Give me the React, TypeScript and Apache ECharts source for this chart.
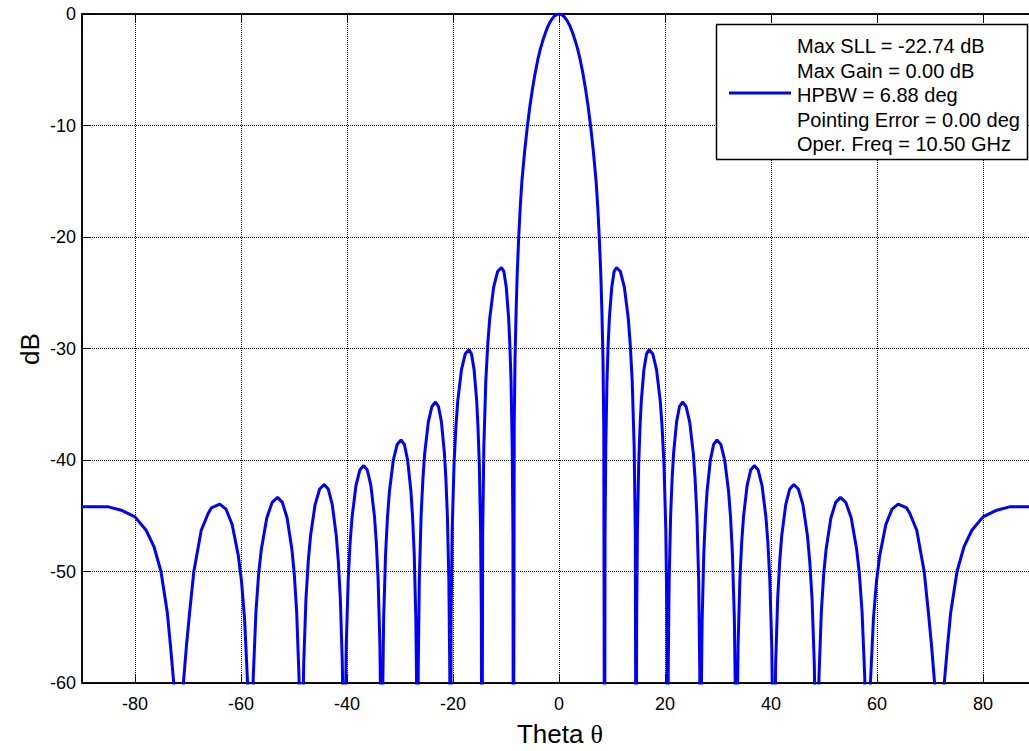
import React, { useEffect, useRef } from 'react';
import * as echarts from 'echarts';

// Radiation pattern: [theta (deg), gain (dB)]
const leftHalf: [number, number][] = [
  [-90, -44.2], [-87.5, -44.2], [-85.0, -44.2], [-82.6, -44.5], [-80.0, -45.1], [-77.9, -46.3], [-76.4, -47.8], [-75.1, -50.0], [-73.9, -53.7], [-73.3, -56.7], [-72.6, -60.5], [-71.9, -80],
  [-70.9, -60.2], [-70.3, -56.7], [-69.7, -53.7], [-68.9, -50.0], [-67.5, -46.3], [-66.2, -44.8], [-65.6, -44.3], [-64.0, -43.95], [-62.84, -44.4], [-61.66, -45.8], [-60.5, -48.6], [-59.9, -50.9], [-59.33, -54.2], [-58.75, -60.1], [-58.4, -68.0], [-58.15, -80],
  [-57.99, -67.4], [-57.69, -59.5], [-57.18, -53.6], [-56.67, -50.2], [-56.16, -48.0], [-55.14, -45.2], [-54.12, -43.8], [-53.1, -43.35], [-52.2, -43.8], [-51.3, -45.2], [-50.4, -48.0], [-49.95, -50.2], [-49.5, -53.6], [-49.05, -59.5], [-48.78, -67.4], [-48.6, -80],
  [-48.43, -66.2], [-48.17, -58.3], [-47.74, -52.4], [-47.31, -49.1], [-46.88, -46.8], [-46.02, -44.0], [-45.16, -42.6], [-44.3, -42.2], [-43.54, -42.6], [-42.78, -44.0], [-42.02, -46.8], [-41.64, -49.1], [-41.26, -52.4], [-40.88, -58.3], [-40.65, -66.2], [-40.5, -80],
  [-40.35, -64.5], [-40.14, -56.6], [-39.77, -50.7], [-39.41, -47.4], [-39.04, -45.1], [-38.31, -42.3], [-37.58, -40.9], [-36.85, -40.5], [-36.17, -40.9], [-35.49, -42.3], [-34.81, -45.1], [-34.47, -47.4], [-34.13, -50.7], [-33.79, -56.6], [-33.59, -64.5], [-33.45, -80],
  [-33.3, -62.2], [-33.09, -54.3], [-32.72, -48.4], [-32.36, -45.1], [-31.99, -42.8], [-31.26, -40.0], [-30.53, -38.6], [-29.8, -38.2], [-29.18, -38.6], [-28.56, -40.0], [-27.94, -42.8], [-27.63, -45.1], [-27.32, -48.4], [-27.01, -54.3], [-26.82, -62.2], [-26.7, -80],
  [-26.56, -58.8], [-26.36, -50.9], [-26.02, -45.0], [-25.68, -41.7], [-25.34, -39.4], [-24.66, -36.6], [-23.98, -35.2], [-23.3, -34.8], [-22.74, -35.2], [-22.18, -36.6], [-21.62, -39.4], [-21.34, -41.7], [-21.06, -45.0], [-20.78, -50.9], [-20.61, -58.8], [-20.5, -80],
  [-20.36, -54.1], [-20.15, -46.2], [-19.8, -40.3], [-19.45, -37.0], [-19.1, -34.7], [-18.4, -31.9], [-17.7, -30.5], [-17.0, -30.1], [-16.51, -30.5], [-16.02, -31.9], [-15.53, -34.7], [-15.29, -37.0], [-15.04, -40.3], [-14.8, -46.2], [-14.65, -54.1], [-14.55, -80],
  [-14.4, -46.7], [-14.18, -38.8], [-13.81, -32.9], [-13.44, -29.6], [-13.07, -27.3], [-12.33, -24.5], [-11.59, -23.1], [-10.85, -22.74], [-10.4, -23.1], [-9.95, -24.5], [-9.5, -27.3], [-9.28, -29.6], [-9.05, -32.9], [-8.83, -38.8], [-8.69, -46.7], [-8.6, -80],
  [-8.45, -37.0], [-8.3, -31.0], [-8.1, -26.8], [-7.9, -23.5], [-7.6, -20.0], [-7.3, -17.2], [-7.0, -15.0], [-6.5, -12.4], [-6.0, -10.2], [-5.5, -8.3], [-5.0, -6.7], [-4.5, -5.3], [-4.0, -4.1], [-3.5, -3.1], [-3.0, -2.3], [-2.5, -1.6], [-2.0, -1.0], [-1.5, -0.57], [-1.0, -0.25], [-0.5, -0.06],
];

const rightHalf: [number, number][] = [
  [0, 0], [0.5, -0.06], [1, -0.25], [1.5, -0.57], [2, -1.0], [2.5, -1.6], [3, -2.3], [3.5, -3.1], [4, -4.1], [4.5, -5.3], [5, -6.7], [5.5, -8.3], [6, -10.2], [6.5, -12.4], [7, -15.0], [7.3, -17.2], [7.6, -20.0], [7.9, -23.5], [8.1, -26.8], [8.3, -31.0], [8.45, -37.0], [8.6, -80],
  [8.69, -46.7], [8.83, -38.8], [9.05, -32.9], [9.28, -29.6], [9.5, -27.3], [9.95, -24.5], [10.4, -23.1], [10.85, -22.74], [11.59, -23.1], [12.33, -24.5], [13.07, -27.3], [13.44, -29.6], [13.81, -32.9], [14.18, -38.8], [14.4, -46.7], [14.55, -80],
  [14.65, -54.1], [14.8, -46.2], [15.04, -40.3], [15.29, -37.0], [15.53, -34.7], [16.02, -31.9], [16.51, -30.5], [17.0, -30.1], [17.7, -30.5], [18.4, -31.9], [19.1, -34.7], [19.45, -37.0], [19.8, -40.3], [20.15, -46.2], [20.36, -54.1], [20.5, -80],
  [20.61, -58.8], [20.78, -50.9], [21.06, -45.0], [21.34, -41.7], [21.62, -39.4], [22.18, -36.6], [22.74, -35.2], [23.3, -34.8], [23.98, -35.2], [24.66, -36.6], [25.34, -39.4], [25.68, -41.7], [26.02, -45.0], [26.36, -50.9], [26.56, -58.8], [26.7, -80],
  [26.82, -62.2], [27.01, -54.3], [27.32, -48.4], [27.63, -45.1], [27.94, -42.8], [28.56, -40.0], [29.18, -38.6], [29.8, -38.2], [30.53, -38.6], [31.26, -40.0], [31.99, -42.8], [32.36, -45.1], [32.72, -48.4], [33.09, -54.3], [33.3, -62.2], [33.45, -80],
  [33.59, -64.5], [33.79, -56.6], [34.13, -50.7], [34.47, -47.4], [34.81, -45.1], [35.49, -42.3], [36.17, -40.9], [36.85, -40.5], [37.58, -40.9], [38.31, -42.3], [39.04, -45.1], [39.41, -47.4], [39.77, -50.7], [40.14, -56.6], [40.35, -64.5], [40.5, -80],
  [40.65, -66.2], [40.88, -58.3], [41.26, -52.4], [41.64, -49.1], [42.02, -46.8], [42.78, -44.0], [43.54, -42.6], [44.3, -42.2], [45.16, -42.6], [46.02, -44.0], [46.88, -46.8], [47.31, -49.1], [47.74, -52.4], [48.17, -58.3], [48.43, -66.2], [48.6, -80],
  [48.78, -67.4], [49.05, -59.5], [49.5, -53.6], [49.95, -50.2], [50.4, -48.0], [51.3, -45.2], [52.2, -43.8], [53.1, -43.35], [54.12, -43.8], [55.14, -45.2], [56.16, -48.0], [56.67, -50.2], [57.18, -53.6], [57.69, -59.5], [57.99, -67.4], [58.15, -80],
  [58.4, -68.0], [58.75, -60.1], [59.33, -54.2], [59.9, -50.9], [60.5, -48.6], [61.66, -45.8], [62.84, -44.4], [64.0, -43.95], [65.6, -44.3], [66.2, -44.8], [67.5, -46.3], [68.9, -50.0], [69.7, -53.7], [70.3, -56.7], [70.9, -60.2], [71.9, -80],
  [72.6, -60.5], [73.3, -56.7], [73.9, -53.7], [75.1, -50.0], [76.4, -47.8], [77.9, -46.3], [80.0, -45.1], [82.6, -44.5], [85.0, -44.2], [87.5, -44.2], [90, -44.2],
];

const legendLines = [
  'Max SLL = -22.74 dB',
  'Max Gain = 0.00 dB',
  'HPBW = 6.88 deg',
  'Pointing Error = 0.00 deg',
  'Oper. Freq = 10.50 GHz',
];

const FONT = '"Liberation Sans", Arial, Helvetica, sans-serif';
const CHART_W = 1040;
const CHART_H = 751;

export default function App() {
  const ref = useRef<HTMLDivElement>(null);

  useEffect(() => {
    if (!ref.current) return;
    const chart = echarts.init(ref.current, null, { renderer: 'svg', width: CHART_W, height: CHART_H });
    const points = [...leftHalf, ...rightHalf];

    const axisLineStyle = { color: '#000', width: 1.5 };
    const tickStyle = { show: true, inside: true, length: 9, lineStyle: { color: '#000', width: 1 } };
    const gridStyle = { show: true, lineStyle: { color: '#000', width: 1, type: [1, 1] as any } };

    const legendTexts = legendLines.map((t, i) => ({
      type: 'text',
      z: 101,
      x: 797,
      y: 46 + i * 24.6,
      style: {
        text: t,
        fill: '#000',
        fontSize: 20,
        fontFamily: FONT,
        align: 'left',
        verticalAlign: 'middle',
      },
    }));

    chart.setOption({
      animation: false,
      backgroundColor: '#fff',
      grid: {
        left: 82,
        top: 14,
        right: 4,
        bottom: 68,
        show: true,
        borderColor: '#000',
        borderWidth: 1.5,
        backgroundColor: '#fff',
        containLabel: false,
      },
      xAxis: [
        {
          type: 'value',
          min: -90,
          max: 90,
          splitNumber: 9,
          position: 'bottom',
          axisLine: { show: true, onZero: false, lineStyle: axisLineStyle },
          axisTick: tickStyle,
          axisLabel: {
            color: '#000',
            fontSize: 18,
            fontFamily: FONT,
            margin: 12,
            showMinLabel: false,
            showMaxLabel: false,
            formatter: (v: number) => (Math.abs(v) === 90 ? '' : String(v)),
          },
          splitLine: gridStyle,
        },
        {
          type: 'value',
          min: -90,
          max: 90,
          splitNumber: 9,
          position: 'top',
          axisLine: { show: true, onZero: false, lineStyle: axisLineStyle },
          axisTick: tickStyle,
          axisLabel: { show: false },
          splitLine: { show: false },
        },
      ],
      yAxis: [
        {
          type: 'value',
          min: -60,
          max: 0,
          interval: 10,
          position: 'left',
          axisLine: { show: true, onZero: false, lineStyle: axisLineStyle },
          axisTick: tickStyle,
          axisLabel: { color: '#000', fontSize: 18, fontFamily: FONT, margin: 6 },
          splitLine: gridStyle,
        },
      ],
      series: [
        {
          type: 'line',
          name: 'Pattern',
          xAxisIndex: 0,
          yAxisIndex: 0,
          data: points,
          showSymbol: false,
          clip: true,
          silent: true,
          lineStyle: { color: '#0000ff', width: 3 },
          itemStyle: { color: '#0000ff' },
          z: 5,
        },
      ],
      graphic: [
        {
          type: 'text',
          x: 30,
          y: 349,
          rotation: Math.PI / 2,
          style: {
            text: 'dB',
            fill: '#000',
            fontSize: 26,
            fontFamily: FONT,
            align: 'center',
            verticalAlign: 'middle',
          },
        },
        {
          type: 'text',
          x: 560,
          y: 734,
          style: {
            text: 'Theta {s|θ}',
            fill: '#000',
            fontSize: 26,
            fontFamily: FONT,
            align: 'center',
            verticalAlign: 'middle',
            rich: { s: { fontSize: 26, fontFamily: '"Liberation Serif", "DejaVu Serif", serif', fill: '#000' } },
          },
        },
        {
          type: 'rect',
          z: 100,
          shape: { x: 716.5, y: 24.5, width: 311, height: 135 },
          style: { fill: '#fff', stroke: '#000', lineWidth: 1.5 },
        },
        {
          type: 'line',
          z: 101,
          shape: { x1: 729, y1: 93, x2: 791, y2: 93 },
          style: { stroke: '#0000ff', lineWidth: 3 },
        },
        ...legendTexts,
      ],
    });

    return () => chart.dispose();
  }, []);

  return (
    <div
      ref={ref}
      style={{ position: 'fixed', left: 0, top: 0, width: CHART_W, height: CHART_H, background: '#fff' }}
    />
  );
}
